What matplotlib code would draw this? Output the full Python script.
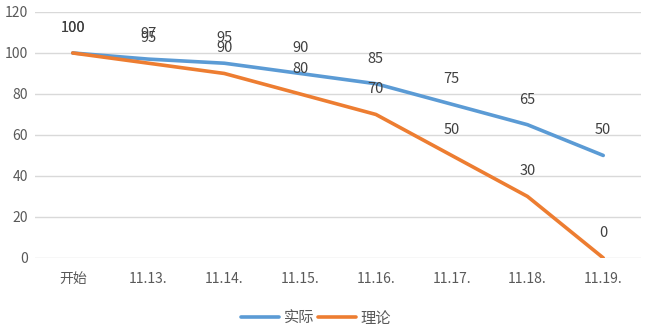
import matplotlib
matplotlib.use('Agg')
import matplotlib.pyplot as plt

plt.rcParams['font.family'] = ['Noto Sans CJK SC', 'DejaVu Sans']

# data
categories = ['开始', '11.13.', '11.14.', '11.15.', '11.16.', '11.17.', '11.18.', '11.19.']
actual = [100, 97, 95, 90, 85, 75, 65, 50]
theory = [100, 95, 90, 80, 70, 50, 30, 0]
series_names = ['实际', '理论']
yticks = [0, 20, 40, 60, 80, 100, 120]

blue = '#5B9BD5'
orange = '#ED7D31'
text_col = '#595959'

fig = plt.figure(figsize=(6.45, 3.24), dpi=100)
ax = fig.add_axes([0.054, 0.204, 0.940, 0.759])

x = list(range(len(categories)))
ax.plot(x, actual, color=blue, lw=2.6, solid_capstyle='round', label=series_names[0], zorder=3)
ax.plot(x, theory, color=orange, lw=2.6, solid_capstyle='round', label=series_names[1], zorder=3)

# data labels, both series put above the point
for xi, v in zip(x, actual):
    ax.annotate(str(v), (xi, v), xytext=(0, 18), textcoords='offset points',
                ha='center', va='center', fontsize=10.5, color='#404040')
for xi, v in zip(x, theory):
    ax.annotate(str(v), (xi, v), xytext=(0, 18), textcoords='offset points',
                ha='center', va='center', fontsize=10.5, color='#404040')

ax.set_xlim(-0.5, len(categories) - 0.5)
ax.set_ylim(0, 120)
ax.set_yticks(yticks)
ax.set_xticks(x)
ax.set_xticklabels(categories)
ax.tick_params(axis='both', length=0, colors=text_col, labelsize=10)
ax.tick_params(axis='y', pad=5)
ax.tick_params(axis='x', pad=10)

ax.grid(axis='y', color='#D9D9D9', lw=1)
ax.set_axisbelow(True)
for s in ax.spines.values():
    s.set_visible(False)

fig.legend(loc='center', bbox_to_anchor=(0.49, 1 - 318 / 324), ncol=2, frameon=False,
           fontsize=11, handlelength=2.5, handletextpad=0.3, columnspacing=0.2,
           labelcolor=text_col)

fig.savefig('out.png', dpi=100)
